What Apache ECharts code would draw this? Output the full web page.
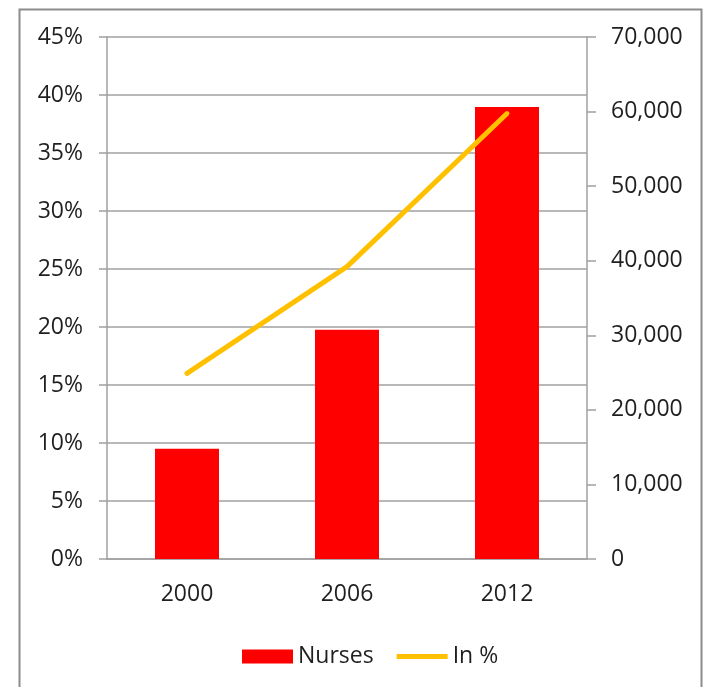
<!DOCTYPE html>
<html>
<head>
<meta charset="utf-8">
<script src="https://cdn.jsdelivr.net/npm/echarts@6/dist/echarts.min.js"></script>
<style>
  html, body { margin: 0; padding: 0; background: #fff; }
  #chart { width: 705px; height: 687px; }
</style>
</head>
<body>
<div id="chart"></div>
<script>
const years = ['2000', '2006', '2012'];
const nurses = [14800, 30750, 60600];
const inPercent = [16.0, 25.2, 38.4];

const textColor = '#1f1f1f';
const gridColor = '#a0a0a0';
const fontFamily = '"Open Sans", "Liberation Sans", sans-serif';

const chart = echarts.init(document.getElementById('chart'));

chart.setOption({
    backgroundColor: '#fff',
    animation: false,
    textStyle: { fontFamily: fontFamily },
    graphic: [{
        type: 'rect',
        left: 17,
        top: 7,
        shape: { width: 682, height: 720 },
        style: { fill: 'none', stroke: '#8c8c8c', lineWidth: 2 },
        silent: true
    }],
    grid: { left: 107, right: 118, top: 37, bottom: 128 },
    legend: {
        left: 237,
        top: 640,
        itemWidth: 51,
        itemHeight: 14,
        itemGap: 23,
        textStyle: { fontSize: 23, color: textColor, fontFamily: fontFamily },
        data: [
            { name: 'Nurses', icon: 'rect' },
            { name: 'In %', icon: 'path://M0,0 L51,0 L51,5 L0,5 Z' }
        ]
    },
    xAxis: {
        type: 'category',
        data: years,
        axisLine: { lineStyle: { color: gridColor, width: 1.5 } },
        axisTick: { length: 7, lineStyle: { color: gridColor, width: 1.5 } },
        axisLabel: { margin: 24, fontSize: 23, color: textColor, fontFamily: fontFamily }
    },
    yAxis: [
        {
            type: 'value',
            position: 'left',
            min: 0,
            max: 45,
            interval: 5,
            axisLine: { show: true, lineStyle: { color: gridColor, width: 1.5 } },
            axisTick: { show: true, length: 8, lineStyle: { color: gridColor, width: 1.5 } },
            axisLabel: { margin: 24, fontSize: 23, color: textColor, fontFamily: fontFamily, formatter: '{value}%' },
            splitLine: { lineStyle: { color: gridColor, width: 1.5 } }
        },
        {
            type: 'value',
            position: 'right',
            min: 0,
            max: 70000,
            interval: 10000,
            axisLine: { show: true, lineStyle: { color: gridColor, width: 1.5 } },
            axisTick: { show: true, length: 9, lineStyle: { color: gridColor, width: 1.5 } },
            axisLabel: {
                margin: 24,
                fontSize: 23,
                color: textColor,
                fontFamily: fontFamily,
                formatter: v => v.toLocaleString('en-US')
            },
            splitLine: { show: false }
        }
    ],
    series: [
        {
            name: 'Nurses',
            type: 'bar',
            yAxisIndex: 1,
            data: nurses,
            barWidth: '40%',
            itemStyle: { color: '#ff0000' }
        },
        {
            name: 'In %',
            type: 'line',
            yAxisIndex: 0,
            data: inPercent,
            symbol: 'none',
            lineStyle: { color: '#ffc000', width: 5, cap: 'round' },
            itemStyle: { color: '#ffc000' }
        }
    ]
});
</script>
</body>
</html>
